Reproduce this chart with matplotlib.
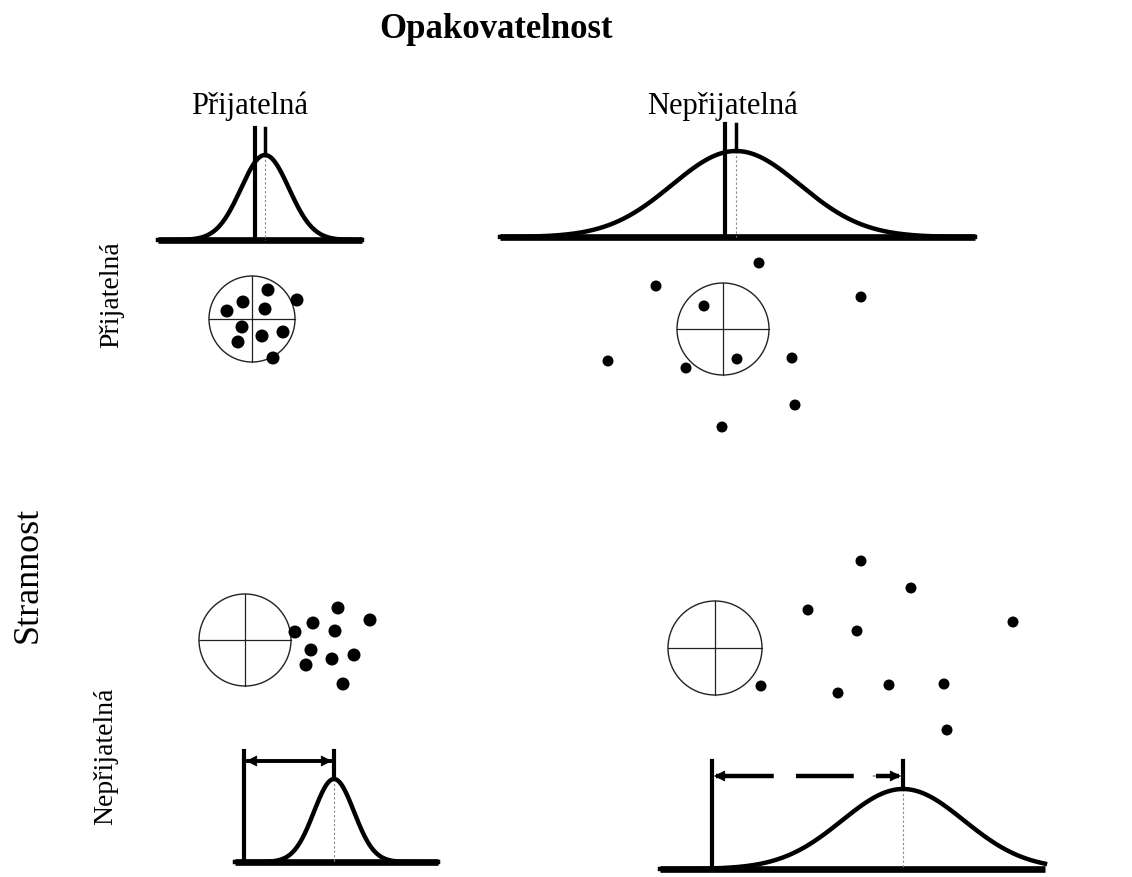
import matplotlib.pyplot as plt
from matplotlib.patches import Circle
import numpy as np

# Panel labels
titulo = "Opakovatelnost"
osa_y = "Strannost"
rubriky = ["Přijatelná", "Nepřijatelná"]

# Hits on target per panel (pixel coordinates of the drawing)
tl_x = [297, 268, 243, 227, 265, 242, 283, 262, 238, 273]
tl_y = [301, 291, 303, 312, 310, 328, 333, 337, 343, 359]
tr_x = [759, 656, 861, 704, 608, 686, 737, 792, 795, 722]
tr_y = [264, 287, 298, 307, 362, 369, 360, 359, 406, 428]
bl_x = [295, 313, 338, 370, 335, 311, 306, 332, 354, 343]
bl_y = [633, 624, 609, 621, 632, 651, 666, 660, 656, 685]
br_x = [861, 911, 808, 1013, 857, 761, 838, 889, 944, 947]
br_y = [562, 589, 611, 623, 632, 687, 694, 686, 685, 731]

# Targets: centre x, centre y, radius
terce = [(252, 320, 43), (723, 330, 46), (245, 641, 46), (715, 649, 47)]

# Distributions: baseline y, x from, x to, mean, sigma, peak y, reference x
rozdeleni = [
    (241, 158, 362, 265, 24, 156, 255),
    (238, 500, 975, 736, 64, 152, 725),
    (863, 235, 438, 334, 20, 780, 244),
    (870, 660, 1045, 903, 61, 790, 712),
]

fig = plt.figure(figsize=(11.32, 8.78), dpi=100)
ax = fig.add_axes([0, 0, 1, 1])
ax.set_xlim(0, 1132)
ax.set_ylim(878, 0)
ax.set_aspect('equal')
ax.axis('off')

serif = ['Liberation Serif', 'DejaVu Serif']

# Texty
ax.text(496, 30, titulo, fontsize=25, fontweight='bold', family=serif, ha='center', va='center')
ax.text(250, 106, rubriky[0], fontsize=22, family=serif, ha='center', va='center')
ax.text(722, 106, rubriky[1], fontsize=22, family=serif, ha='center', va='center')
ax.text(28, 575, osa_y, fontsize=26, family=serif, rotation=90, ha='center', va='center')
ax.text(112, 295, rubriky[0], fontsize=20, family=serif, rotation=90, ha='center', va='center')
ax.text(106, 756, rubriky[1], fontsize=20, family=serif, rotation=90, ha='center', va='center')

# Terče s křížem
for cx, cy, r in terce:
    ax.add_patch(Circle((cx, cy), r, fill=False, lw=1.0, ec='#222222'))
    ax.plot([cx - r, cx + r], [cy, cy], color='#222222', lw=0.9)
    ax.plot([cx, cx], [cy - r, cy + r], color='#222222', lw=0.9)

# Zásahy
for xs, ys, rad in [(tl_x, tl_y, 6.5), (tr_x, tr_y, 5.5), (bl_x, bl_y, 6.5), (br_x, br_y, 5.5)]:
    for x, y in zip(xs, ys):
        ax.add_patch(Circle((x, y), rad, color='black', lw=0))

# Rozdělení
for i, (base, x0, x1, mu, sig, peak, ref) in enumerate(rozdeleni):
    x = np.linspace(x0, x1, 400)
    y = base - (base - peak) * np.exp(-(x - mu) ** 2 / (2 * sig ** 2))
    ax.plot([x0, x1], [base, base], color='black', lw=4.8, solid_capstyle='butt')
    ax.plot(x, y, color='black', lw=3.2)
    ax.plot([mu, mu], [peak, base], color='#888888', lw=0.8, ls=(0, (2, 2)))
    if i < 2:
        # střední hodnota + referenční hodnota nahoře
        ax.plot([ref, ref], [peak - 27, base], color='black', lw=3.0)
        ax.plot([mu, mu], [peak - 27, peak], color='black', lw=2.5)
    else:
        top = peak - 28
        ax.plot([ref, ref], [top, base], color='black', lw=3.0)
        ax.plot([mu, mu], [top, peak], color='black', lw=3.0)
        ya = top + 10 if i == 2 else top + 15
        if i == 2:
            ax.plot([ref + 4, mu - 4], [ya, ya], color='black', lw=2.8)
        else:
            ax.plot([ref + 4, mu - 4], [ya, ya], color='black', lw=3.2, dashes=(13, 5))
        for a, b in [(ref + 30, ref + 2), (mu - 30, mu - 2)]:
            ax.annotate('', xy=(b, ya), xytext=(a, ya),
                        arrowprops=dict(arrowstyle='-|>', color='black', lw=0.5,
                                        mutation_scale=18, shrinkA=0, shrinkB=0))

fig.savefig('out.png', dpi=100)
